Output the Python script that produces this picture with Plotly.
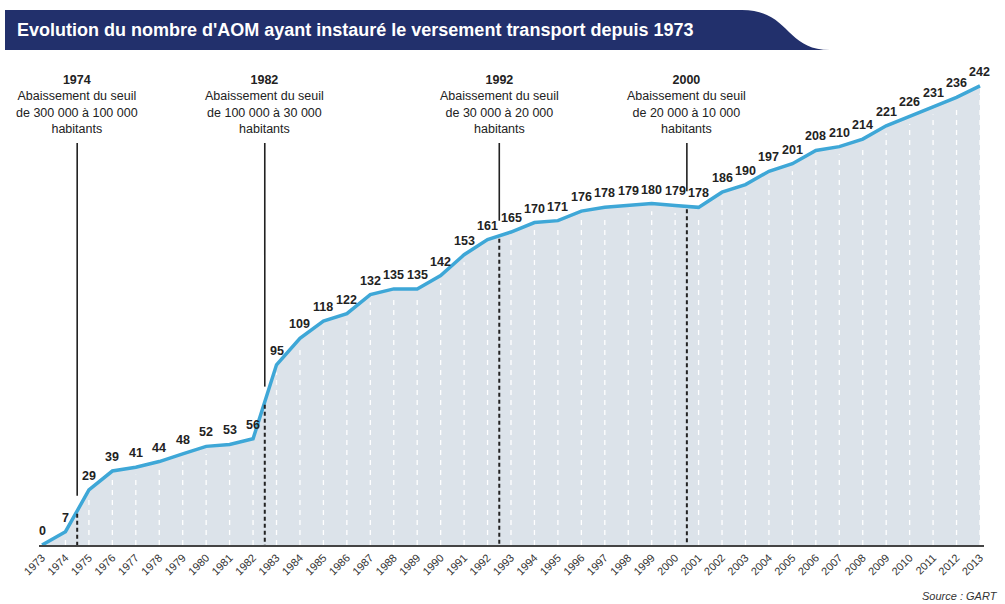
import plotly.graph_objects as go
import numpy as np

# ---------------- data ----------------
years = list(range(1973, 2014))
aom = [0, 7, 29, 39, 41, 44, 48, 52, 53, 56,
       95, 109, 118, 122, 132, 135, 135, 142, 153, 161,
       165, 170, 171, 176, 178, 179, 180, 179, 178, 186,
       190, 197, 201, 208, 210, 214, 221, 226, 231, 236, 242]
event_years = [1974, 1982, 1992, 2000]
event_texts = [
    "Abaissement du seuil<br>de 300 000 à 100 000<br>habitants",
    "Abaissement du seuil<br>de 100 000 à 30 000<br>habitants",
    "Abaissement du seuil<br>de 30 000 à 20 000<br>habitants",
    "Abaissement du seuil<br>de 20 000 à 10 000<br>habitants",
]
title_text = "Evolution du nombre d'AOM ayant instauré le versement transport depuis 1973"
source_text = "Source : GART"

# ---------------- layout geometry ----------------
W, H = 1005, 604
XR = [1972.85, 2013.15]
YR = [0, 260]
x_px = [38.5, 983.5]
y_px = [545, 51.8]  # pixel of YR[0], YR[1]

def px(x):
    return x / W

def py(y):
    return 1 - y / H

def val_at_px(ypix):
    return YR[0] + (y_px[0] - ypix) / (y_px[0] - y_px[1]) * (YR[1] - YR[0])

FONT = "Liberation Sans, Arial, sans-serif"

fig = go.Figure()

# area
fig.add_trace(go.Scatter(x=years, y=aom, mode="lines", fill="tozeroy",
                         fillcolor="#dce3ea", line=dict(width=0),
                         hoverinfo="skip", showlegend=False))

# white dashed vertical grid segments within the area
gx, gy = [], []
for yr, v in zip(years[1:], aom[1:]):
    gx += [yr, yr, None]
    gy += [0, max(v - 4, 0), None]
fig.add_trace(go.Scatter(x=gx, y=gy, mode="lines",
                         line=dict(color="white", width=1.3, dash="5px,5px"),
                         hoverinfo="skip", showlegend=False))

# main line
fig.add_trace(go.Scatter(x=years, y=aom, mode="lines",
                         line=dict(color="#3ea7d7", width=3.5),
                         showlegend=False))

shapes = []
annotations = []

# event lines
y_top = val_at_px(143)
for ey, txt in zip(event_years, event_texts):
    xe = ey + 0.5
    cv = float(np.interp(xe, years, aom))
    shapes.append(dict(type="line", xref="x", yref="y", x0=xe, x1=xe,
                       y0=y_top, y1=cv + 8, line=dict(color="#222222", width=1.6)))
    shapes.append(dict(type="line", xref="x", yref="y", x0=xe, x1=xe,
                       y0=cv - 1.5, y1=0, line=dict(color="#222222", width=2, dash="4px,3px"),
                       layer="above"))
    annotations.append(dict(x=xe, y=py(71), xref="x", yref="paper",
                            text="<b>%d</b><br>%s" % (ey, txt), showarrow=False,
                            xanchor="center", yanchor="top", align="center",
                            font=dict(family=FONT, size=12.5, color="#222222")))

# data labels
for yr, v in zip(years, aom):
    annotations.append(dict(x=yr, y=v, xref="x", yref="y", text="<b>%d</b>" % v,
                            showarrow=False, xanchor="center", yanchor="bottom",
                            yshift=5,
                            font=dict(family=FONT, size=12.5, color="#222222")))

# title banner
path = ("M {a},{b} L {c},{b} C {d},{b} {e},{f} {g},{f} L {a},{f} Z").format(
    a=px(5), b=py(10), c=px(742), d=px(790), e=px(785), f=py(50), g=px(830))
shapes.insert(0, dict(type="path", xref="paper", yref="paper", path=path,
                      fillcolor="#22306c", line=dict(width=0), layer="below"))
annotations.append(dict(x=px(15), y=py(30), xref="paper", yref="paper",
                        text="<b>" + title_text + "</b>", showarrow=False,
                        xanchor="left", yanchor="middle",
                        font=dict(family=FONT, size=18, color="white")))

# source
annotations.append(dict(x=px(1000), y=py(596), xref="paper", yref="paper",
                        text="<i>" + source_text + "</i>", showarrow=False,
                        xanchor="right", yanchor="middle",
                        font=dict(family=FONT, size=11, color="#333333")))

fig.update_layout(
    width=W, height=H,
    margin=dict(l=0, r=0, t=0, b=0),
    paper_bgcolor="white", plot_bgcolor="white",
    shapes=shapes, annotations=annotations,
    xaxis=dict(range=XR, domain=[px(x_px[0]), px(x_px[1])],
               tickmode="array", tickvals=years, ticktext=[str(y) for y in years],
               tickangle=-45, showgrid=False, zeroline=False,
               showline=True, linecolor="#444444", linewidth=2,
               ticks="", tickfont=dict(family=FONT, size=11, color="#333333"),
               automargin=False, fixedrange=True),
    yaxis=dict(range=YR, domain=[py(y_px[0]), py(y_px[1])],
               showgrid=False, zeroline=False, showline=False,
               showticklabels=False, ticks="", automargin=False, fixedrange=True),
    showlegend=False,
)

fig.write_html("out.html", config={"displayModeBar": False},
               post_script="document.body.style.margin='0';")
